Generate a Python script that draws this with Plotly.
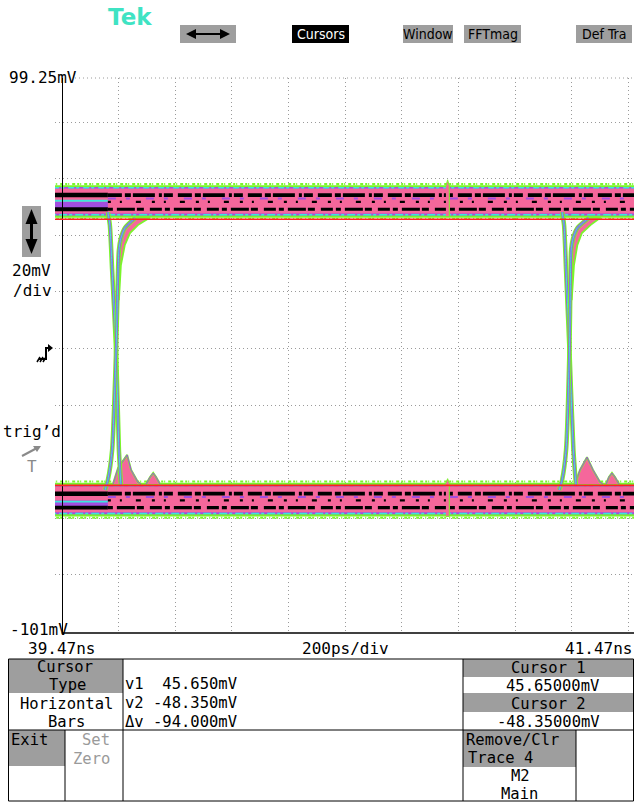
import plotly.graph_objects as go

X_LABEL_TEXT = ["39.47ns", "41.47ns"]
TIMEBASE_TEXT = "200ps/div"
Y_LABEL_TEXT = ["99.25mV", "-101mV"]
SCALE_TEXT = ["20mV", "/div"]

X_RANGE = [39.4464, 41.4898]      # ns visible on the screen
Y_RANGE = [-100.53, 95.58]        # mV visible on the screen
GRID_T = [39.67, 39.87, 40.07, 40.27, 40.47, 40.67, 40.87, 41.07, 41.27, 41.47]
GRID_V = [-80, -60, -40, -20, 0, 20, 40, 60, 80]

CURSOR_V = [45.65, -48.35]        # horizontal bar cursors (mV)

# eye-diagram levels (mV)
BAND_T = [39.44, 41.50]
STRIPE_T = [39.44, 39.633]
SPECK_T = [39.633, 41.50]
HI_GREEN = [46.2, 57.7]
HI_PURPLE = [47.0, 57.1]
HI_PINK = [47.7, 56.5]
HI_CYAN = [47.3, 56.8]
HI_BLACK = [54.2, 49.2]
HI_MID = 51.8
LO_GREEN = [-59.4, -47.4]
LO_PURPLE = [-58.6, -48.2]
LO_PINK = [-57.9, -48.8]
LO_CYAN = [-58.3, -48.4]
LO_BLACK = [-51.3, -56.2]
LO_MID = -53.7

# transitions (ns, mV)
FALL_L_T = [39.633, 39.640, 39.648, 39.662, 39.672, 39.679]
FALL_L_V = [48.2, 43.6, 27.7, -0.5, -35.9, -48.2]
RISE_L_T = [39.623, 39.633, 39.648, 39.662, 39.669, 39.672, 39.679, 39.693, 39.729]
RISE_L_V = [-50.0, -46.5, -35.9, -0.5, 27.7, 34.8, 39.0, 42.6, 46.1]
FALL_R_T = [41.236, 41.243, 41.250, 41.262, 41.276, 41.285]
FALL_R_V = [48.2, 43.6, 27.7, -0.5, -35.9, -48.2]
RISE_R_T = [41.226, 41.236, 41.250, 41.262, 41.266, 41.268, 41.275, 41.290, 41.330]
RISE_R_V = [-50.0, -46.5, -35.9, -0.5, 27.7, 34.8, 39.0, 42.6, 46.1]

# slow-settling fans under the high level
FAN_L_T = [39.669, 39.672, 39.679, 39.693, 39.729, 39.782, 39.739, 39.711, 39.693, 39.679, 39.672]
FAN_L_V = [17.1, 34.8, 39.0, 42.6, 46.1, 46.3, 43.6, 40.8, 36.6, 29.5, 17.1]
FAN_R_T = [41.266, 41.268, 41.275, 41.290, 41.330, 41.372, 41.336, 41.306, 41.290, 41.278, 41.270]
FAN_R_V = [17.1, 34.8, 39.0, 42.6, 46.1, 46.3, 43.6, 40.8, 36.6, 29.5, 17.1]

# ringing humps above the low level
HUMP_L_T = [39.651, 39.669, 39.701, 39.715, 39.739, 39.750]
HUMP_L_V = [-47.9, -42.2, -37.6, -42.9, -47.2, -47.9]
BUMP_L_T = [39.768, 39.782, 39.793, 39.803, 39.817]
BUMP_L_V = [-47.9, -45.4, -44.0, -45.4, -47.9]
HUMP_R_T = [41.2815, 41.2992, 41.3239, 41.3451, 41.3698, 41.3804]
HUMP_R_V = [-47.9, -42.9, -38.4, -42.9, -47.2, -47.9]
BUMP_R_T = [41.3909, 41.4015, 41.4121, 41.4227, 41.4368]
BUMP_R_V = [-47.9, -45.4, -44.0, -45.4, -47.9]

# glitch near 40.83 ns
BLIP_T = [40.826, 40.832, 40.838, 40.838, 40.826]
BLIP_HI_V = [57.3, 59.6, 57.3, 46.6, 46.6]
BLIP_LO_V = [-47.6, -46.0, -47.6, -59.3, -59.3]

# readout panel text
READOUT_LINES = ["v1  45.650mV", "v2 -48.350mV", "\u0394v -94.000mV"]
CURSOR_VALUES_TEXT = ["45.65000mV", "-48.35000mV"]

# ---------------- styling ----------------
GREEN = "#7af52a"
CYAN = "#3be6dc"
PURPLE = "#a24ee0"
PINK = "#f5679b"
BLACK = "#000000"
RED = "#ff2020"
GRAY = "#9e9e9e"
GRIDC = "#9a9a9a"
MONO = "DejaVu Sans Mono"
NARROW = "DejaVu Sans Condensed, Liberation Sans Narrow, Arial Narrow, DejaVu Sans, sans-serif"

W, H = 634, 803
PL, PR, PT, PB = 55, 634, 78, 633


def px(x):
    return (x - PL) / (PR - PL)


def py(y):
    return (PB - y) / (PB - PT)


traces = []


def poly(ts, vs, fill, lc=None, lw=0):
    traces.append(go.Scatter(x=ts, y=vs, mode="lines", fill="toself", fillcolor=fill,
                             line=dict(color=lc or fill, width=lw), hoverinfo="skip",
                             showlegend=False))


def line(ts, vs, color, width, dash="solid"):
    traces.append(go.Scatter(x=ts, y=vs, mode="lines",
                             line=dict(color=color, width=width, dash=dash, shape="spline",
                                       smoothing=0.6),
                             hoverinfo="skip", showlegend=False))


def rect_band(seg, lohi, color):
    t0, t1 = seg
    lo, hi = min(lohi), max(lohi)
    poly([t0, t1, t1, t0], [lo, lo, hi, hi], color)


def level_band(G, P, K, C, B, MID, up):
    rect_band(BAND_T, G, GREEN)
    rect_band(BAND_T, P, PURPLE)
    rect_band(BAND_T, K, PINK)
    # fuzzy green edges
    line(BAND_T, [max(G) + 0.4] * 2, GREEN, 2.2, "2px,1px,1px,3px,3px,2px")
    line(BAND_T, [min(G) - 0.4] * 2, GREEN, 2.2, "1px,2px,3px,1px,2px,3px")
    # cyan edge lines
    line(BAND_T, [C[1]] * 2, CYAN, 1.5, "6px,2px,3px,4px")
    line(BAND_T, [C[0]] * 2, CYAN, 1.5, "3px,3px,8px,2px")
    # striped section (left)
    rect_band(STRIPE_T, [B[1], MID], PURPLE)
    line(STRIPE_T, [MID + (0.4 if up else -0.4)] * 2, CYAN, 1.8)
    line(STRIPE_T, [B[0]] * 2, BLACK, 4.5)
    line(STRIPE_T, [B[1]] * 2, BLACK, 3.8)
    # speckled section
    line(SPECK_T, [B[0]] * 2, BLACK, 3.8, "14px,3px,6px,2px,22px,4px,3px,2px,9px,5px")
    line(SPECK_T, [B[1]] * 2, BLACK, 3.2, "5px,4px,18px,2px,7px,6px,12px,3px")
    line(SPECK_T, [MID] * 2, BLACK, 2.2, "3px,9px,2px,14px,5px,11px")
    line(SPECK_T, [(MID + B[0]) / 2] * 2, PURPLE, 2.0, "8px,10px,4px,16px")


level_band(HI_GREEN, HI_PURPLE, HI_PINK, HI_CYAN, HI_BLACK, HI_MID, True)
level_band(LO_GREEN, LO_PURPLE, LO_PINK, LO_CYAN, LO_BLACK, LO_MID, False)

# fans, humps, glitch
for ts, vs in [(FAN_L_T, FAN_L_V), (FAN_R_T, FAN_R_V)]:
    poly(ts, vs, PINK, GREEN, 1.8)
for ts, vs in [(HUMP_L_T, HUMP_L_V), (BUMP_L_T, BUMP_L_V), (HUMP_R_T, HUMP_R_V), (BUMP_R_T, BUMP_R_V)]:
    poly(ts, vs, PINK, GREEN, 2.0)
    traces.append(go.Scatter(x=ts, y=vs, mode="lines", line=dict(color=PURPLE, width=1),
                             hoverinfo="skip", showlegend=False))
poly(BLIP_T, BLIP_HI_V, PINK, GREEN, 1)
poly(BLIP_T, BLIP_LO_V, PINK, GREEN, 1)

# edges
for ts, vs in [(FALL_L_T, FALL_L_V), (RISE_L_T, RISE_L_V), (FALL_R_T, FALL_R_V), (RISE_R_T, RISE_R_V)]:
    line(ts, vs, GREEN, 4.5)
    line(ts, vs, PURPLE, 2.4)
    line(ts, vs, CYAN, 1.0)

fig = go.Figure(traces)

shapes = []
annos = []


def rect(x0, y0, x1, y1, fill=None, lc=None, lw=1):
    shapes.append(dict(type="rect", xref="paper", yref="paper", x0=px(x0), x1=px(x1),
                       y0=py(y1), y1=py(y0), fillcolor=fill or "rgba(0,0,0,0)",
                       line=dict(color=lc or "rgba(0,0,0,0)", width=lw if lc else 0),
                       layer="above"))


def seg(x0, y0, x1, y1, color="black", lw=1, dash="solid"):
    shapes.append(dict(type="line", xref="paper", yref="paper", x0=px(x0), x1=px(x1),
                       y0=py(y0), y1=py(y1), line=dict(color=color, width=lw, dash=dash),
                       layer="above"))


def pathpx(pts, fill=None, lc=None, lw=1, close=True):
    d = "M " + " L ".join(f"{px(x):.5f},{py(y):.5f}" for x, y in pts) + (" Z" if close else "")
    shapes.append(dict(type="path", xref="paper", yref="paper", path=d,
                       fillcolor=fill or "rgba(0,0,0,0)",
                       line=dict(color=lc or "rgba(0,0,0,0)", width=lw if lc else 0),
                       layer="above"))


def txt(x, y, s, size=16, color="black", anchor="center", family=MONO, weight="normal"):
    annos.append(dict(x=px(x), y=py(y), xref="paper", yref="paper", text=s, showarrow=False,
                      xanchor=anchor, yanchor="middle", borderpad=0,
                      font=dict(family=family, size=size, color=color, weight=weight)))


# cursors (data coordinates)
for v in CURSOR_V:
    shapes.append(dict(type="line", xref="paper", yref="y", x0=0, x1=1, y0=v, y1=v,
                       line=dict(color=RED, width=1.6), layer="above"))

# graticule border pieces
seg(75, PT, PR, PT, GRIDC, 1, "1px,3px")
seg(61.7, PB, PR, PB, "black", 1.3)

# top menu bar
txt(130, 17, "Tek", 23, "#3fe3c3", family="DejaVu Sans", weight="bold")
rect(180, 25, 236, 43, GRAY)
pathpx([(190, 34), (226, 34)], lc="black", lw=2.2, close=False)
pathpx([(186, 34), (196, 29), (196, 39)], fill="black")
pathpx([(230, 34), (220, 29), (220, 39)], fill="black")
rect(292, 25, 349, 43, "black")
txt(320.5, 34, "Cursors", 14, "white", family=NARROW)
rect(403, 25, 453, 43, GRAY)
txt(428, 34, "Window", 14, family=NARROW)
rect(464, 25, 521, 43, GRAY)
txt(492.5, 34, "FFTmag", 14, family=NARROW)
rect(576, 25, 632, 43, GRAY)
txt(604, 34, "Def Tra", 14, family=NARROW)

# axis labels
LS = 16
txt(8, 77, Y_LABEL_TEXT[0], LS, anchor="left")
txt(9, 629.5, Y_LABEL_TEXT[1], LS, anchor="left")
txt(61, 648, X_LABEL_TEXT[0], LS)
txt(345, 648, TIMEBASE_TEXT, LS)
txt(633, 648, X_LABEL_TEXT[1], LS, anchor="right")

# left side indicators
rect(22, 206, 41, 257, GRAY)
pathpx([(31.5, 214), (31.5, 249)], lc="black", lw=3, close=False)
pathpx([(31.5, 209), (25.5, 224), (37.5, 224)], fill="black")
pathpx([(31.5, 254), (25.5, 239), (37.5, 239)], fill="black")
txt(31, 270, SCALE_TEXT[0], LS)
txt(32, 290, SCALE_TEXT[1], LS)
pathpx([(39, 359), (46, 359), (46, 348), (51, 348)], lc="black", lw=2, close=False)
pathpx([(53, 348), (48, 344), (48, 352)], fill="black")
for hx in (37, 40, 43):
    seg(hx, 362, hx + 3, 357, "black", 1.5)
txt(32, 432, "trig\u2019d", 16)
pathpx([(22, 456), (37, 448)], lc="#8a8a8a", lw=2, close=False)
pathpx([(41, 446), (33, 446), (37, 452)], fill="#8a8a8a")
txt(32, 467, "T", 16, "#8a8a8a")

# readout table
rect(8, 659, 123, 693, GRAY)
rect(8, 730, 65, 766, GRAY)
rect(463, 659, 634, 677, GRAY)
rect(463, 693, 634, 712, GRAY)
rect(463, 730, 576, 767, GRAY)
rect(8.5, 659, 633.5, 801, None, "black", 1)
seg(123, 659, 123, 801)
seg(8, 730, 634, 730)
seg(65, 730, 65, 801)
seg(463, 659, 463, 801)
seg(576, 730, 576, 801)

TS = 15.5
txt(65, 667, "Cursor", TS)
txt(67, 685, "Type", TS)
txt(66, 703.5, "Horizontal", TS)
txt(66, 721.5, "Bars", TS)
txt(124, 684, READOUT_LINES[0], TS, anchor="left")
txt(124, 703, READOUT_LINES[1], TS, anchor="left")
txt(124, 722, READOUT_LINES[2], TS, anchor="left")
txt(10, 740, "Exit", TS, anchor="left")
txt(111, 740, "Set", TS, "#9a9a9a", anchor="right")
txt(111, 759, "Zero", TS, "#9a9a9a", anchor="right")
txt(548, 667.5, "Cursor 1", TS)
txt(552, 686, CURSOR_VALUES_TEXT[0], TS)
txt(548, 703.5, "Cursor 2", TS)
txt(548, 721.5, CURSOR_VALUES_TEXT[1], TS)
txt(465, 740, "Remove/Clr", TS, anchor="left")
txt(467, 758, "Trace 4", TS, anchor="left")
txt(520, 776, "M2", TS)
txt(519, 794, "Main", TS)

fig.update_layout(
    width=W, height=H,
    margin=dict(l=PL, r=W - PR, t=PT, b=H - PB, pad=0),
    paper_bgcolor="white", plot_bgcolor="white",
    showlegend=False,
    shapes=shapes, annotations=annos,
    xaxis=dict(range=X_RANGE, tickmode="array", tickvals=GRID_T, showticklabels=False,
               ticks="", showgrid=True, gridcolor=GRIDC, gridwidth=1, griddash="1px,3px",
               zeroline=False, showline=False, fixedrange=True),
    yaxis=dict(range=Y_RANGE, tickmode="array", tickvals=GRID_V, showticklabels=False,
               ticks="", showgrid=True, gridcolor=GRIDC, gridwidth=1, griddash="1px,3px",
               zeroline=False, showline=True, linecolor="black", linewidth=1.3,
               anchor="free", position=px(61.7), fixedrange=True),
)

fig.write_html("out.html", config={"displayModeBar": False},
               post_script="document.body.style.margin='0px';document.body.style.overflow='hidden';")
